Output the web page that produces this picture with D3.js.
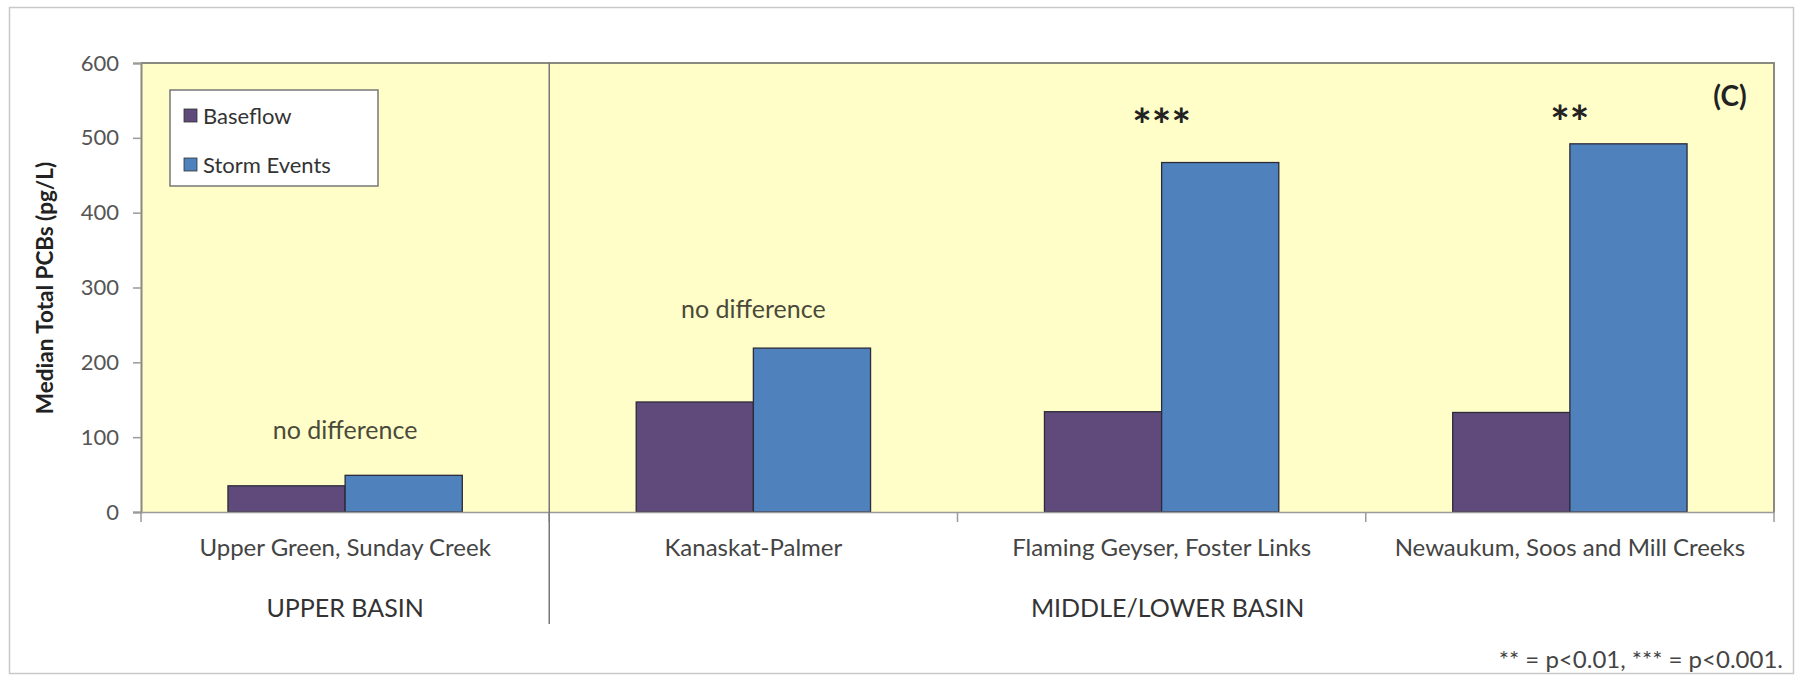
<!DOCTYPE html>
<html>
<head>
<meta charset="utf-8">
<script src="https://cdn.jsdelivr.net/npm/d3@7"></script>
<style>
  body { margin: 0; background: #ffffff; }
  text { font-family: Lato, "Open Sans", sans-serif; }
</style>
</head>
<body>
<div id="chart"></div>
<script>
// Sites (categories) and the two series of median values
const sites = ["Upper Green, Sunday Creek", "Kanaskat-Palmer", "Flaming Geyser, Foster Links", "Newaukum, Soos and Mill Creeks"];
const seriesNames = ["Baseflow", "Storm Events"];
const baseflow = [35, 147, 134, 133];
const storm = [49, 219, 467, 492];

// Significance notes above each site and the value where they sit
const notes = ["no difference", "no difference", "***", "**"];
const noteValues = [98, 259, 494, 498];

// Basin groups (first and last site index of each)
const basinNames = ["UPPER BASIN", "MIDDLE/LOWER BASIN"];
const basinFirst = [0, 1];
const basinLast = [0, 3];

const yTicks = [0, 100, 200, 300, 400, 500, 600];
const colors = ["#604a7b", "#4f81bd"];

function create_chart(width, height) {
    const margin = { top: 63, right: 24, bottom: 163, left: 141 };
    const innerWidth = width - margin.left - margin.right;
    const innerHeight = height - margin.top - margin.bottom;

    const root = d3.select("#chart").append("svg")
        .attr("width", width)
        .attr("height", height);

    // outer frame
    root.append("rect")
        .attr("x", 9.5).attr("y", 7.5)
        .attr("width", 1784).attr("height", 666)
        .attr("fill", "none")
        .attr("stroke", "#c8c8c8")
        .attr("stroke-width", 1.5);

    const svg = root.append("g")
        .attr("transform", "translate(" + margin.left + "," + margin.top + ")");

    // scales
    const x0 = d3.scaleBand().domain(sites).range([0, innerWidth]).padding(0);
    const bw = x0.bandwidth();
    const x1 = d3.scaleBand().domain(seriesNames).range([bw * 0.213, bw * 0.787]).padding(0);
    const y = d3.scaleLinear().domain([0, 600]).range([innerHeight, 0]);

    // plot area background
    svg.append("rect")
        .attr("width", innerWidth)
        .attr("height", innerHeight)
        .attr("fill", "#fffdc8");

    // bars
    const rows = sites.map(function (s, i) { return { site: s, values: [baseflow[i], storm[i]] }; });
    const groups = svg.selectAll(".site")
        .data(rows)
        .enter().append("g")
        .attr("transform", function (d) { return "translate(" + x0(d.site) + ",0)"; });

    groups.selectAll("rect")
        .data(function (d) { return d.values.map(function (v, k) { return { name: seriesNames[k], value: v, k: k }; }); })
        .enter().append("rect")
        .attr("x", function (d) { return x1(d.name); })
        .attr("y", function (d) { return y(d.value); })
        .attr("width", x1.bandwidth())
        .attr("height", function (d) { return innerHeight - y(d.value); })
        .attr("fill", function (d) { return colors[d.k]; })
        .attr("stroke", "#2b2b3a")
        .attr("stroke-width", 1.3);

    // plot border (top and right)
    svg.append("path")
        .attr("d", "M0,0H" + innerWidth + "V" + innerHeight)
        .attr("fill", "none")
        .attr("stroke", "#8a8a80")
        .attr("stroke-width", 2);

    // y axis
    const yAxis = svg.append("g")
        .call(d3.axisLeft(y).tickValues(yTicks).tickSize(8).tickPadding(14));
    yAxis.select(".domain").attr("stroke", "#8a8a80").attr("stroke-width", 2);
    yAxis.selectAll(".tick line").attr("stroke", "#9a9a9a").attr("stroke-width", 1.5);
    yAxis.selectAll("text")
        .style("font-size", "22px")
        .style("font-family", "Lato, sans-serif")
        .attr("fill", "#555");

    // x axis: line with ticks at band boundaries
    const xAxis = svg.append("g")
        .attr("transform", "translate(0," + innerHeight + ")")
        .call(d3.axisBottom(x0).tickSize(0).tickPadding(27));
    xAxis.select(".domain").attr("stroke", "#9a9a9a").attr("stroke-width", 1.5);
    xAxis.selectAll("text")
        .style("font-size", "24px")
        .style("font-family", "Lato, sans-serif")
        .attr("fill", "#444");
    const bounds = sites.map(function (s) { return x0(s); }).concat([innerWidth]);
    xAxis.selectAll(".bound")
        .data(bounds)
        .enter().append("line")
        .attr("x1", function (d) { return d; })
        .attr("x2", function (d) { return d; })
        .attr("y1", 0).attr("y2", 10)
        .attr("stroke", "#9a9a9a")
        .attr("stroke-width", 1.5);

    // basin divider
    svg.append("line")
        .attr("x1", x0(sites[1])).attr("x2", x0(sites[1]))
        .attr("y1", 0).attr("y2", innerHeight + 112)
        .attr("stroke", "#777")
        .attr("stroke-width", 1.5);

    // basin labels
    svg.selectAll(".basin")
        .data(basinNames)
        .enter().append("text")
        .attr("text-anchor", "middle")
        .attr("x", function (d, i) {
            return (x0(sites[basinFirst[i]]) + x0(sites[basinLast[i]]) + bw) / 2 + (i === 1 ? 6 : 0);
        })
        .attr("y", innerHeight + 105)
        .style("font-size", "25px")
        .attr("fill", "#333")
        .text(function (d) { return d; });

    // significance notes
    svg.selectAll(".note")
        .data(notes)
        .enter().append("text")
        .attr("text-anchor", "middle")
        .attr("x", function (d, i) { return x0(sites[i]) + bw / 2; })
        .attr("y", function (d, i) { return y(noteValues[i]); })
        .style("font-size", function (d) { return d.indexOf("*") === 0 ? "46px" : "25px"; })
        .style("font-weight", function (d) { return d.indexOf("*") === 0 ? "bold" : "normal"; })
        .attr("fill", function (d) { return d.indexOf("*") === 0 ? "#222" : "#4a4a3a"; })
        .text(function (d) { return d; });

    // panel letter
    svg.append("text")
        .attr("text-anchor", "middle")
        .attr("x", innerWidth - 44)
        .attr("y", 43)
        .style("font-size", "28px")
        .style("font-weight", "bold")
        .attr("fill", "#222")
        .text("(C)");

    // y axis title
    svg.append("text")
        .attr("text-anchor", "middle")
        .attr("transform", "rotate(-90)")
        .attr("x", -225)
        .attr("y", -88)
        .style("font-size", "22.5px")
        .style("font-weight", "bold")
        .attr("fill", "#222")
        .text("Median Total PCBs (pg/L)");

    // legend
    const legend = svg.append("g").attr("transform", "translate(29,27)");
    legend.append("rect")
        .attr("width", 208).attr("height", 96)
        .attr("fill", "#ffffff")
        .attr("stroke", "#777")
        .attr("stroke-width", 1.5);
    seriesNames.forEach(function (name, i) {
        legend.append("rect")
            .attr("x", 14).attr("y", 19 + i * 49)
            .attr("width", 13).attr("height", 13)
            .attr("fill", colors[i])
            .attr("stroke", "#333")
            .attr("stroke-width", 0.8);
        legend.append("text")
            .attr("x", 33).attr("y", 34 + i * 49)
            .style("font-size", "22px")
            .attr("fill", "#333")
            .text(name);
    });

    // footnote
    root.append("text")
        .attr("text-anchor", "end")
        .attr("x", 1783)
        .attr("y", 668)
        .style("font-size", "24px")
        .attr("fill", "#444")
        .text("** = p<0.01, *** = p<0.001.");
}

create_chart(1798, 675);
</script>
</body>
</html>
